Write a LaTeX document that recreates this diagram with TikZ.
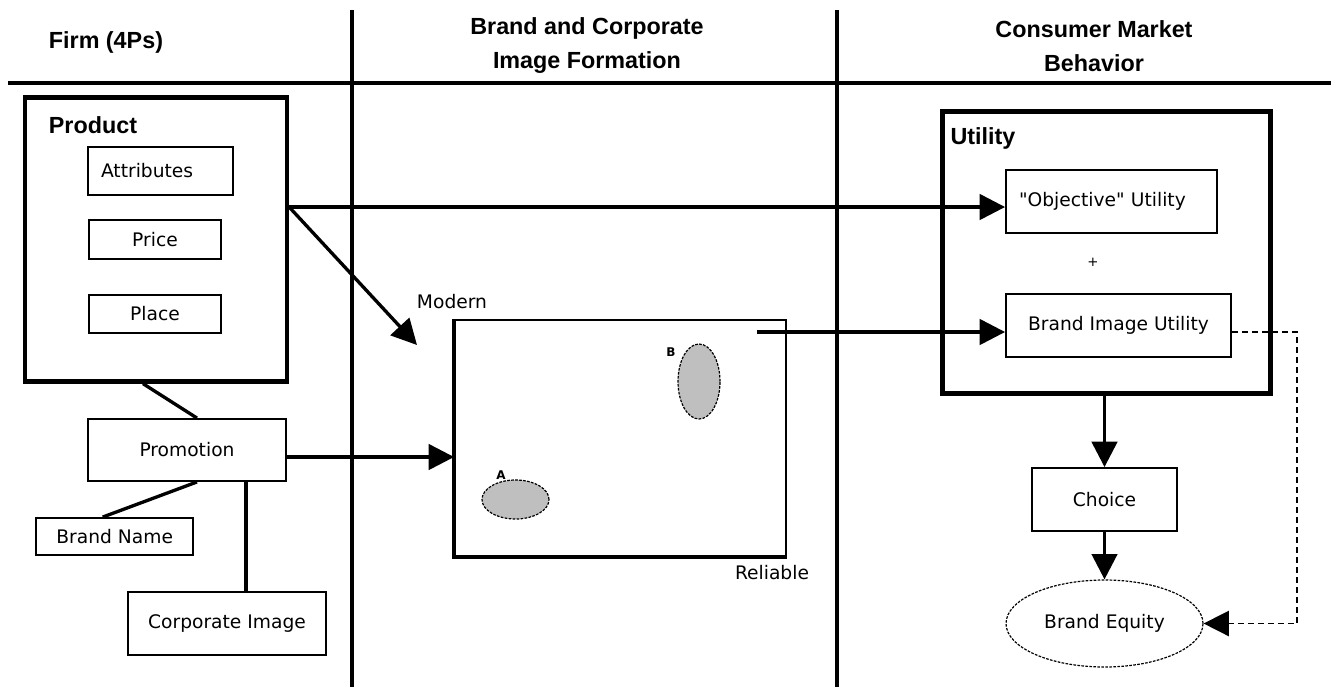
\documentclass[tikz,border=0pt]{standalone}
\usepackage{fontspec}
\usepackage{tikz}
\usetikzlibrary{arrows.meta,shapes.geometric}
\setmainfont{DejaVu Sans}
\newfontfamily\headfont{Liberation Sans}
\newdimen\px
\px=0.75pt

\begin{document}
\begin{tikzpicture}[x=0.75pt, y=-0.75pt,
		box_style/.style={rectangle,draw=black,line width=1.4pt,inner sep=0pt,font=\fontsize{14}{17}\selectfont},
		frame_style/.style={rectangle,draw=black,line width=3.2pt,inner sep=0pt},
		head_style/.style={font=\headfont\bfseries\fontsize{17.5}{25.5}\selectfont,align=center,inner sep=0pt},
		text_style/.style={font=\fontsize{14}{17}\selectfont,inner sep=0pt},
		cluster_style/.style={ellipse,draw=black,line width=0.9pt,dash pattern=on 2pt off 1pt,fill=black!25,inner sep=0pt},
		rule_style/.style={draw=black,line width=2.6pt},
		line_style/.style={draw=black,line width=2.5pt},
		edge_style/.style={draw=black,line width=2.5pt,-{Triangle[length=19pt,width=19pt]}},
		dash_edge_style/.style={draw=black,line width=1.2pt,dash pattern=on 4.5pt off 3pt,-{Triangle[length=19pt,width=19pt]}}]

		\useasboundingbox (0,0) rectangle (1331,687);

		% column rules
		\draw[rule_style] (8,83) -- (1331,83);
		\draw[rule_style] (352,10) -- (352,687);
		\draw[rule_style] (837,10) -- (837,687);

		% headers
		\node[head_style] (head_firm) at (106,42) {Firm (4Ps)};
		\node[head_style] (head_brand) at (587,46) {Brand and Corporate\\Image Formation};
		\node[head_style] (head_cons) at (1094,46) {Consumer Market\\Behavior};

		% firm
		\node[frame_style,minimum width=262\px,minimum height=284\px] (product) at (156,239.5) {};
		\node[head_style] (lbl_product) at (93,125) {Product};
		\node[box_style,minimum height=48\px,text width=119\px,inner xsep=13\px,align=left] (attr) at (160.5,171) {Attributes\\[-4pt]};
		\node[box_style,minimum width=132\px,minimum height=39\px] (price) at (155,239.5) {Price};
		\node[box_style,minimum width=132\px,minimum height=38\px] (place) at (155,314) {Place};
		\node[box_style,minimum width=198\px,minimum height=62\px] (promo) at (187,450) {Promotion};
		\node[box_style,minimum width=157\px,minimum height=37\px] (bname) at (114.7,536.5) {Brand Name};
		\node[box_style,minimum width=198\px,minimum height=63\px] (corp) at (227,623.5) {Corporate Image};

		% image formation
		\node[box_style,minimum width=331\px,minimum height=236\px] (map) at (620.5,438) {};
		\draw[draw=black,line width=3.2pt] (map.north west) -- (map.south west) -- (map.south east);
		\node[text_style] (lbl_modern) at (452,302) {Modern};
		\node[text_style] (lbl_reliable) at (772,573) {Reliable};
		\node[cluster_style,minimum width=67\px,minimum height=39\px] (clus_a) at (515.5,499.5) {};
		\node[cluster_style,minimum width=42\px,minimum height=75\px] (clus_b) at (699,381.5) {};
		\node[font=\fontsize{9}{10}\selectfont\bfseries,inner sep=0pt] (lbl_a) at (501,475) {A};
		\node[font=\fontsize{9}{10}\selectfont\bfseries,inner sep=0pt] (lbl_b) at (671,352) {B};

		% consumer market
		\node[frame_style,minimum width=328\px,minimum height=282\px] (utility) at (1106.5,252.5) {};
		\node[head_style] (lbl_utility) at (983,138) {Utility};
		\node[box_style,minimum height=63\px,text width=185\px,inner xsep=13\px,align=left] (obj) at (1111.5,201.5) {\textquotedbl Objective\textquotedbl{} Utility};
		\node[font=\fontsize{10}{12}\selectfont,inner sep=0pt] (plus) at (1093,262) {+};
		\node[box_style,minimum width=225\px,minimum height=63\px] (biu) at (1118.5,325.5) {Brand Image Utility};
		\node[box_style,minimum width=145\px,minimum height=63\px] (choice) at (1104.5,499.5) {Choice};
		\node[box_style,ellipse,line width=0.9pt,dash pattern=on 2pt off 1pt,minimum width=197\px,minimum height=87\px] (equity) at (1104.5,623.5) {Brand Equity};

		\coordinate (lvl_obj) at (0,207);
		\coordinate (lvl_promo) at (0,457);
		\coordinate (modern_tip) at (417,345);
		\coordinate (map_out) at (757,332);
		\coordinate (dash_corner) at (1297,623.5);

		% connectors
		\draw[edge_style] (product.east |- lvl_obj) -- (obj.west |- lvl_obj);
		\draw[edge_style] (product.east |- lvl_obj) -- (modern_tip);
		\draw[edge_style] (promo.east |- lvl_promo) -- (map.west |- lvl_promo);
		\draw[edge_style] (map_out) -- (biu.west |- map_out);
		\draw[edge_style] (utility.south -| choice.north) -- (choice.north);
		\draw[edge_style] (choice.south) -- (equity.north);
		\draw[dash_edge_style] (biu.east |- map_out) -| (dash_corner) -- (equity.east);

		\draw[line_style] ([xshift=-13\px]product.south) -- ([xshift=10\px]promo.north);
		\draw[line_style] ([xshift=10\px]promo.south) -- ([xshift=-12\px]bname.north);
		\draw[line_style] ([xshift=59\px]promo.south) -- ([xshift=19\px]corp.north);
\end{tikzpicture}
\end{document}
